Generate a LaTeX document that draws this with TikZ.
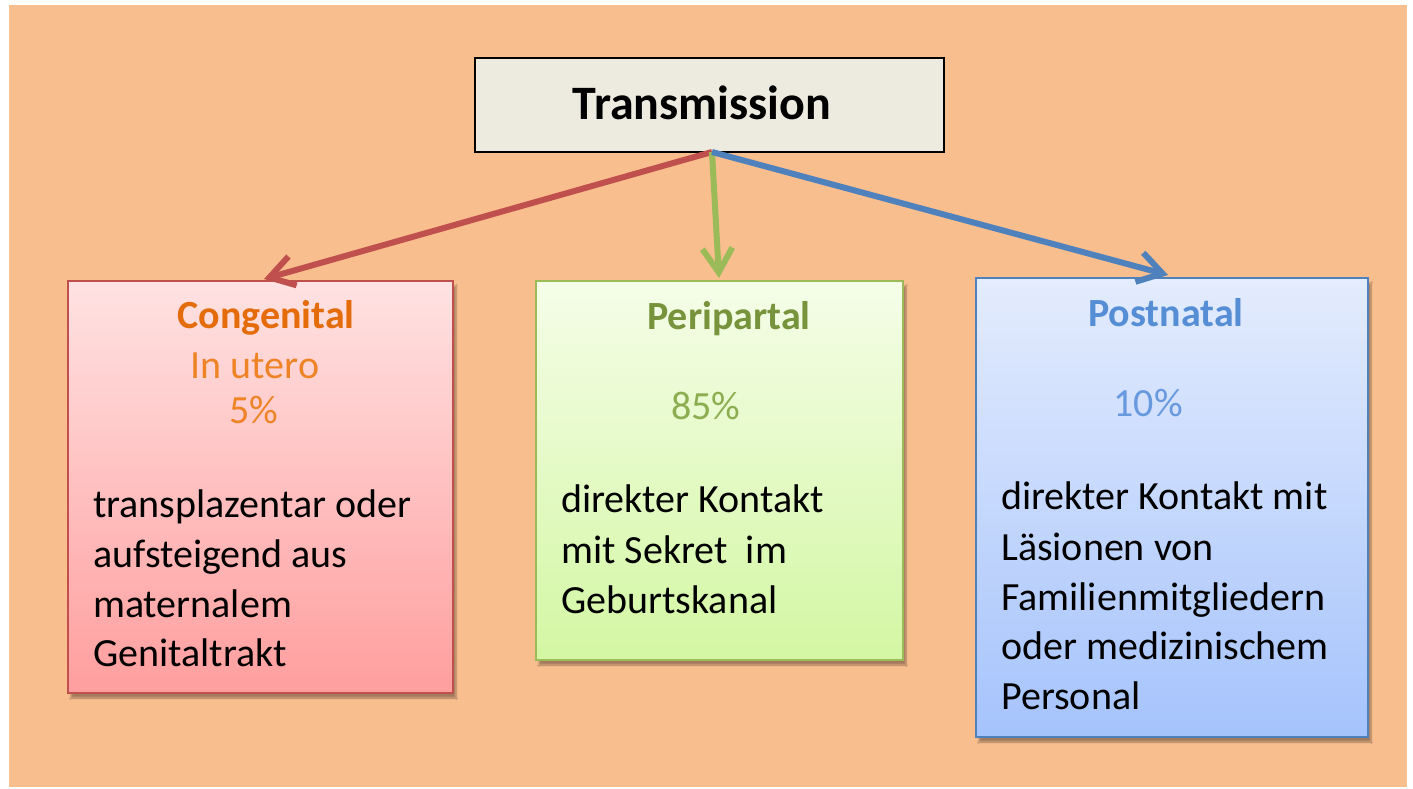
\documentclass[tikz,border=0pt]{standalone}
\usepackage{fontspec}
\setmainfont{Carlito}
\usetikzlibrary{arrows.meta,shadows.blur}
\definecolor{bgorange}{HTML}{F9BE8E}
\definecolor{titlefill}{HTML}{EDEAE0}
\definecolor{redline}{HTML}{C0504D}
\definecolor{greenline}{HTML}{9BBB59}
\definecolor{blueline}{HTML}{4F81BD}
\definecolor{redtop}{HTML}{FFE2E2}
\definecolor{redbot}{HTML}{FF9E9E}
\definecolor{greentop}{HTML}{F5FDE8}
\definecolor{greenbot}{HTML}{D3F7A3}
\definecolor{bluetop}{HTML}{E4ECFD}
\definecolor{bluebot}{HTML}{A5C3FC}
\definecolor{orhead}{HTML}{E46C0A}
\definecolor{orsub}{HTML}{EE8426}
\definecolor{grhead}{HTML}{77933C}
\definecolor{grsub}{HTML}{8DAE50}
\definecolor{blhead}{HTML}{558ED5}
\definecolor{blsub}{HTML}{6699DD}
\tikzset{
  catbox/.style={rectangle, outer sep=0pt, inner sep=0pt, anchor=north west, line width=2pt,
    blur shadow={shadow xshift=3pt, shadow yshift=-5pt, shadow opacity=35, shadow blur steps=6}},
  titlebox/.style={rectangle, outer sep=0pt, inner sep=0pt, anchor=north west, draw=black, line width=2pt, fill=titlefill},
  bodytxt/.style={anchor=base west, inner sep=0pt, font=\fontsize{40}{48}\selectfont, text=black},
  headtxt/.style={anchor=base, inner sep=0pt, font=\fontsize{40}{48}\selectfont\bfseries},
  subtxt/.style={anchor=base, inner sep=0pt, font=\fontsize{40}{48}\selectfont},
  conn/.style={line width=6pt, -{Straight Barb[length=24pt,width=30pt]}}
}
\begin{document}
\begin{tikzpicture}[x=1pt,y=-1pt]
\useasboundingbox (0,0) rectangle (1413,789);
\fill[white] (0,0) rectangle (1413,789);
\fill[bgorange] (9,5) rectangle (1407,787);

% title
\node[titlebox, minimum width=469pt, minimum height=94pt] (T) at (475,58) {};
\node[anchor=base, inner sep=0pt, font=\fontsize{48}{56}\selectfont\bfseries] (Tt) at (702,120) {Transmission};

% category boxes
\node[catbox, draw=redline, top color=redtop, bottom color=redbot, minimum width=385pt, minimum height=412pt] (C) at (68,281) {};
\node[catbox, draw=greenline, top color=greentop, bottom color=greenbot, minimum width=367pt, minimum height=379pt] (P) at (536,281) {};
\node[catbox, draw=blueline, top color=bluetop, bottom color=bluebot, minimum width=392pt, minimum height=459pt] (Q) at (976,278) {};

% arrows
\draw[conn, redline] ([xshift=2.5pt]T.south) -- ([xshift=3.5pt,yshift=2pt]C.north);
\draw[conn, greenline] ([xshift=2.5pt]T.south) -- ([xshift=-0.5pt,yshift=3pt]P.north);
\draw[conn, blueline] ([xshift=2.5pt]T.south) -- ([xshift=-4pt,yshift=3pt]Q.north);

% Congenital
\node[headtxt, text=orhead] (Ch) at (266,328) {Congenital};
\node[subtxt, text=orsub] (Cs1) at (255,378) {In utero};
\node[subtxt, text=orsub] (Cs2) at (254,423) {5\%};
\node[bodytxt] (Cb1) at (93,517) {transplazentar oder};
\node[bodytxt] (Cb2) at (93,567) {aufsteigend aus};
\node[bodytxt] (Cb3) at (93,617) {maternalem};
\node[bodytxt] (Cb4) at (93,666) {Genitaltrakt};

% Peripartal
\node[headtxt, text=grhead] (Ph) at (729,329) {Peripartal};
\node[subtxt, text=grsub] (Ps) at (706,419) {85\%};
\node[bodytxt] (Pb1) at (561,512) {direkter Kontakt};
\node[bodytxt] (Pb2) at (561,563) {mit Sekret\ \ im};
\node[bodytxt] (Pb3) at (561,613) {Geburtskanal};

% Postnatal
\node[headtxt, text=blhead] (Qh) at (1166,326) {Postnatal};
\node[subtxt, text=blsub] (Qs) at (1148,416) {10\%};
\node[bodytxt] (Qb1) at (1001,509) {direkter Kontakt mit};
\node[bodytxt] (Qb2) at (1001,560) {Läsionen von};
\node[bodytxt] (Qb3) at (1001,610) {Familienmitgliedern};
\node[bodytxt] (Qb4) at (1001,659) {oder medizinischem};
\node[bodytxt] (Qb5) at (1001,709) {Personal};
\end{tikzpicture}
\end{document}
